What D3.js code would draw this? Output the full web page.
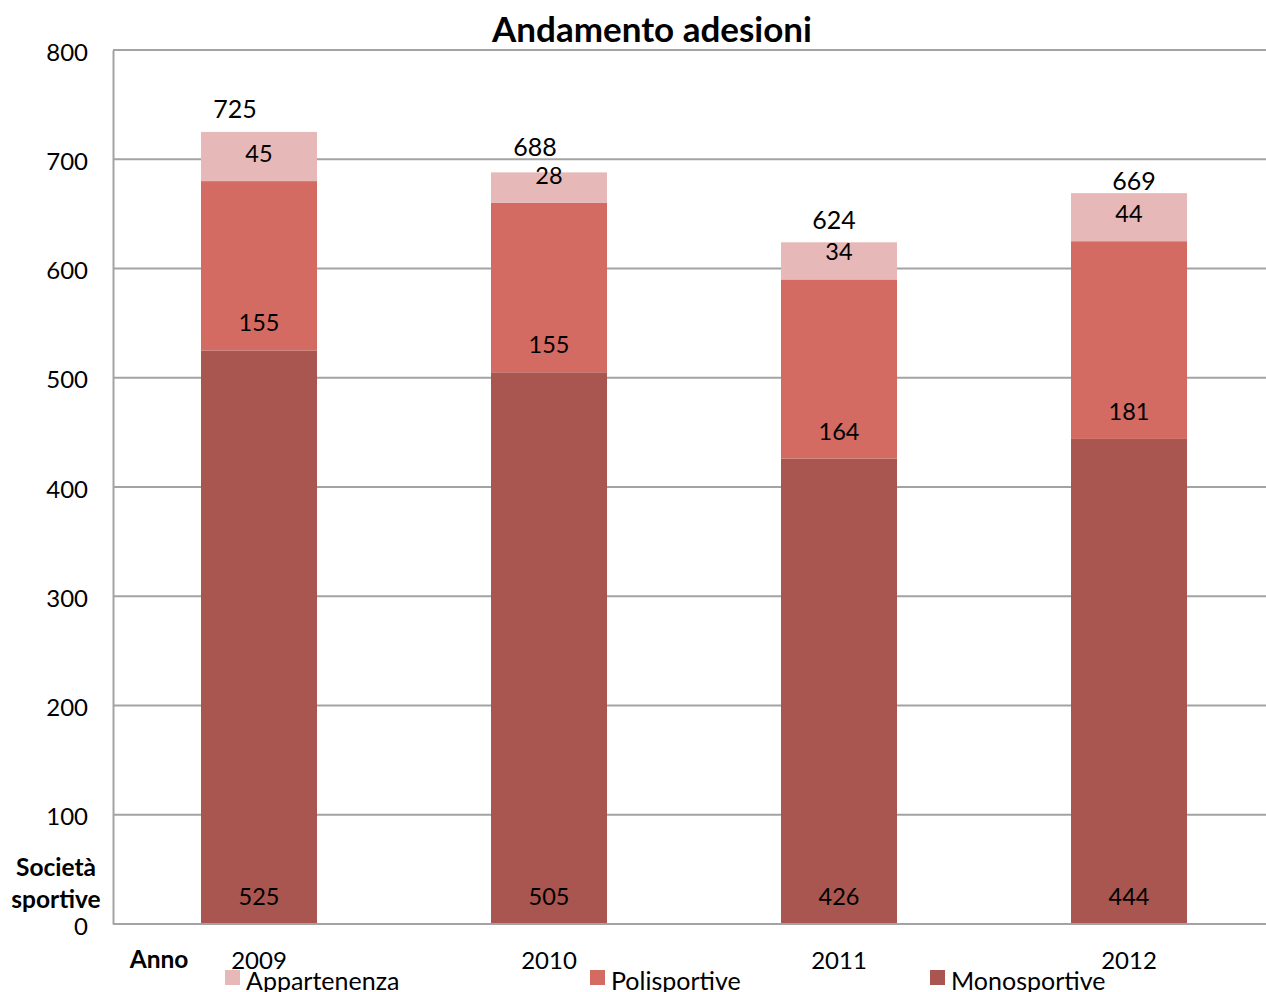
<!DOCTYPE html>
<html><head><meta charset="utf-8">
<script src="https://cdn.jsdelivr.net/npm/d3@7/dist/d3.min.js"></script>
<style>body{margin:0;background:#fff}svg{display:block;font-family:Lato,"Open Sans",sans-serif}</style>
</head><body><svg id="c" width="1266" height="992"></svg>
<script>
const years = ["2009","2010","2011","2012"];
const monosportive = [525,505,426,444];
const polisportive = [155,155,164,181];
const appartenenza = [45,28,34,44];
const totals = [725,688,624,669];
const yTicks = [0,100,200,300,400,500,600,700,800];
const seriesNames = ["Appartenenza","Polisportive","Monosportive"];
const colors = {Monosportive:"#a95550",Polisportive:"#d36b63",Appartenenza:"#e6b9b8"};
// manual nudges of total labels (as in the original)
const totalNudge = [[-24,-24],[-14,-26],[-5,-23],[5,-13]];

const svg = d3.select("#c");
const L=113, T=50, B=924, band=290;
const x = d3.scaleBand().domain(years).range([L+1, L+1+band*years.length]).paddingInner(0.6).paddingOuter(0.3);
const y = d3.scaleLinear().domain([0,800]).range([B,T]);

// gridlines
svg.append("g").selectAll("line").data(yTicks.filter(d=>d>0)).join("line")
  .attr("x1",L).attr("x2",1266).attr("y1",d=>y(d)).attr("y2",d=>y(d))
  .attr("stroke","#a3a3a3").attr("stroke-width",2);

const rows = years.map((yr,i)=>({year:yr,Monosportive:monosportive[i],Polisportive:polisportive[i],Appartenenza:appartenenza[i]}));
const stack = d3.stack().keys(["Monosportive","Polisportive","Appartenenza"])(rows);

const g = svg.append("g");
stack.forEach(s=>{
  g.selectAll(null).data(s).join("rect")
    .attr("x",d=>x(d.data.year)).attr("width",x.bandwidth())
    .attr("y",d=>y(d[1])).attr("height",d=>y(d[0])-y(d[1]))
    .attr("fill",colors[s.key]);
});
// segment labels (inside base)
stack.forEach(s=>{
  g.selectAll(null).data(s).join("text")
    .attr("x",d=>x(d.data.year)+x.bandwidth()/2).attr("y",d=>y(d[0])-28)
    .attr("text-anchor","middle").attr("dominant-baseline","central")
    .attr("font-size",23.5).attr("fill","#000").text(d=>d[1]-d[0]);
});
// total labels
g.selectAll(null).data(totals).join("text")
  .attr("x",(d,i)=>x(years[i])+x.bandwidth()/2+totalNudge[i][0])
  .attr("y",(d,i)=>y(d)+totalNudge[i][1])
  .attr("text-anchor","middle").attr("dominant-baseline","central")
  .attr("font-size",25).text(d=>d);

// axes
const ya = svg.append("g").attr("transform",`translate(${L},0)`)
  .call(d3.axisLeft(y).tickValues(yTicks).tickSize(0).tickPadding(25));
ya.select(".domain").attr("stroke","#a3a3a3").attr("stroke-width",2);
ya.selectAll("text").attr("font-size",24).attr("font-family","Lato").attr("fill","#000").attr("dy","0.42em");
ya.selectAll("text").filter(d=>d===0).attr("dy","0.45em");

const xa = svg.append("g").attr("transform",`translate(0,${B})`)
  .call(d3.axisBottom(x).tickSize(0).tickPadding(28));
xa.select(".domain").attr("stroke","#a3a3a3").attr("stroke-width",2).attr("d",`M${L},0H1266`);
xa.selectAll("text").attr("font-size",24).attr("font-family","Lato").attr("fill","#000");

// axis titles
svg.append("text").attr("x",56).attr("y",866).attr("text-anchor","middle").attr("dominant-baseline","central")
  .attr("font-weight","bold").attr("font-size",24.5).text("Società");
svg.append("text").attr("x",56).attr("y",898).attr("text-anchor","middle").attr("dominant-baseline","central")
  .attr("font-weight","bold").attr("font-size",24.5).text("sportive");
svg.append("text").attr("x",159).attr("y",958).attr("text-anchor","middle").attr("dominant-baseline","central")
  .attr("font-weight","bold").attr("font-size",24.5).text("Anno");

// title
svg.append("text").attr("x",652).attr("y",28).attr("text-anchor","middle").attr("dominant-baseline","central")
  .attr("font-weight","bold").attr("font-size",35).text("Andamento adesioni");

// legend
const legX = [225,590,930];
const lg = svg.append("g").selectAll("g").data(seriesNames).join("g")
  .attr("transform",(d,i)=>`translate(${legX[i]},970)`);
lg.append("rect").attr("width",15).attr("height",15).attr("fill",d=>colors[d]);
lg.append("text").attr("x",21).attr("y",10).attr("dominant-baseline","central")
  .attr("font-size",25).text(d=>d);
</script></body></html>
